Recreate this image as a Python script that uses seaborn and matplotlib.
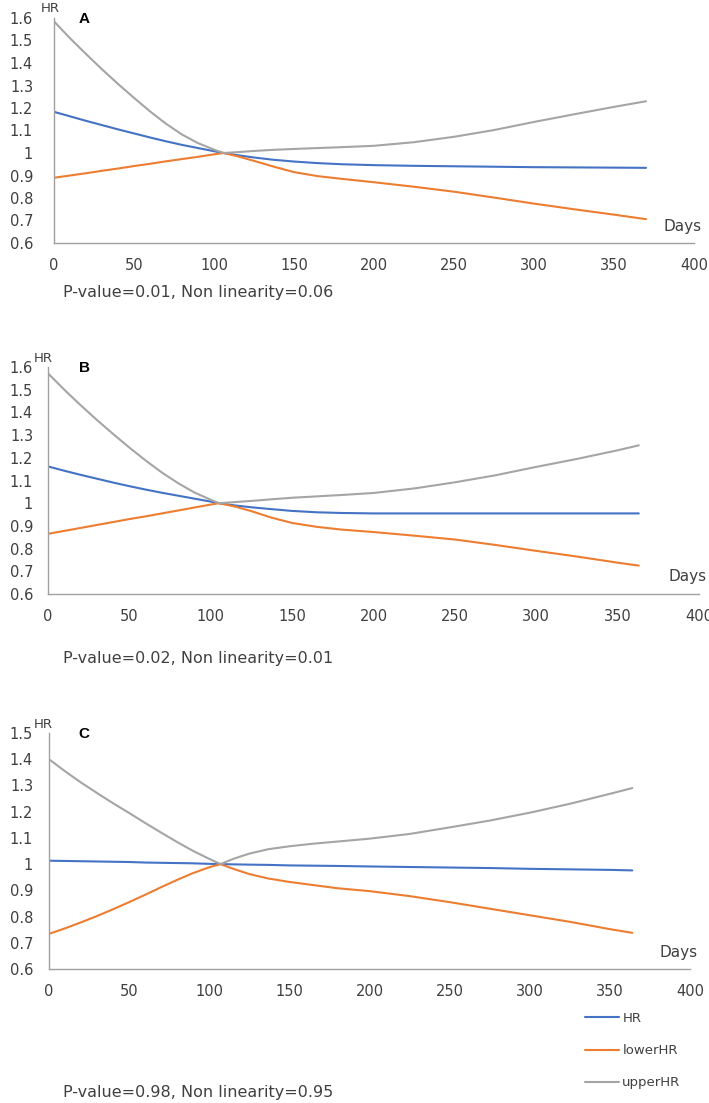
import numpy as np
import pandas as pd
import matplotlib
matplotlib.use("Agg")
import matplotlib.pyplot as plt
import seaborn as sns

# Days and curves
days_a = [0, 10, 20, 30, 40, 50, 60, 70, 80, 90, 100, 106, 115, 125, 137, 150, 165, 180, 200, 225,
          250, 275, 300, 325, 350, 370]
hr_a = [1.183, 1.163, 1.143, 1.124, 1.105, 1.087, 1.069, 1.052, 1.036, 1.022, 1.008, 1.0, 0.99, 0.98,
        0.97, 0.962, 0.955, 0.95, 0.946, 0.943, 0.941, 0.939, 0.937, 0.936, 0.935, 0.934]
lower_a = [0.89, 0.9, 0.91, 0.921, 0.931, 0.942, 0.952, 0.963, 0.973, 0.983, 0.994, 1.0, 0.985, 0.965,
           0.94, 0.915, 0.897, 0.885, 0.87, 0.85, 0.828, 0.802, 0.775, 0.75, 0.726, 0.706]
upper_a = [1.585, 1.51, 1.44, 1.372, 1.307, 1.245, 1.185, 1.13, 1.082, 1.044, 1.015, 1.0, 1.004, 1.009,
           1.014, 1.018, 1.022, 1.026, 1.032, 1.048, 1.072, 1.102, 1.138, 1.172, 1.205, 1.23]

days_b = [0, 10, 20, 30, 40, 50, 60, 70, 80, 90, 100, 105, 115, 125, 137, 150, 165, 180, 200, 225,
          250, 275, 300, 325, 350, 363]
hr_b = [1.162, 1.143, 1.125, 1.108, 1.091, 1.075, 1.06, 1.046, 1.033, 1.02, 1.007, 1.0, 0.99, 0.982,
        0.974, 0.966, 0.96, 0.957, 0.955, 0.955, 0.955, 0.955, 0.955, 0.955, 0.955, 0.955]
lower_b = [0.865, 0.878, 0.891, 0.904, 0.917, 0.93, 0.942, 0.955, 0.968, 0.981, 0.994, 1.0, 0.985, 0.965,
           0.937, 0.913, 0.896, 0.884, 0.873, 0.857, 0.84, 0.816, 0.79, 0.765, 0.738, 0.725]
upper_b = [1.572, 1.50, 1.432, 1.367, 1.305, 1.245, 1.188, 1.135, 1.088, 1.047, 1.015, 1.0, 1.005, 1.01,
           1.017, 1.024, 1.03, 1.036, 1.045, 1.065, 1.092, 1.123, 1.16, 1.195, 1.233, 1.255]

days_c = [0, 10, 20, 30, 40, 50, 60, 70, 80, 90, 100, 107, 115, 125, 137, 150, 165, 180, 200, 225,
          250, 275, 300, 325, 350, 364]
hr_c = [1.013, 1.012, 1.011, 1.01, 1.009, 1.008, 1.006, 1.005, 1.004, 1.003, 1.001, 1.0, 0.999, 0.998,
        0.997, 0.995, 0.994, 0.993, 0.991, 0.989, 0.987, 0.985, 0.982, 0.98, 0.978, 0.976]
lower_c = [0.734, 0.755, 0.778, 0.802, 0.828, 0.855, 0.883, 0.912, 0.94, 0.966, 0.988, 1.0, 0.982, 0.962,
           0.945, 0.932, 0.92, 0.908, 0.897, 0.878, 0.855, 0.83, 0.805, 0.78, 0.752, 0.738]
upper_c = [1.40, 1.354, 1.311, 1.271, 1.232, 1.195, 1.157, 1.12, 1.084, 1.05, 1.02, 1.0, 1.02, 1.04,
           1.057, 1.068, 1.078, 1.086, 1.097, 1.115, 1.14, 1.166, 1.196, 1.23, 1.268, 1.29]

panel_letters = ["A", "B", "C"]
pvalue_notes = ["P-value=0.01, Non linearity=0.06",
                "P-value=0.02, Non linearity=0.01",
                "P-value=0.98, Non linearity=0.95"]
y_tops = [1.6, 1.6, 1.5]

series_names = ["HR", "lowerHR", "upperHR"]
colors = {"HR": "#4472C4", "lowerHR": "#ED7D31", "upperHR": "#A5A5A5"}


def make_frame(days, hr, lower, upper):
    frames = []
    for name, vals in zip(series_names, [hr, lower, upper]):
        frames.append(pd.DataFrame({"Days": days, "value": vals, "series": name}))
    return pd.concat(frames, ignore_index=True)


panels = [make_frame(days_a, hr_a, lower_a, upper_a),
          make_frame(days_b, hr_b, lower_b, upper_b),
          make_frame(days_c, hr_c, lower_c, upper_c)]

sns.set_style("white")
plt.rcParams["font.family"] = ["DejaVu Sans"]

W, H = 709, 1103
fig = plt.figure(figsize=(W / 100, H / 100), dpi=100)

# pixel boxes: left, top, right, bottom
boxes = [(54, 18, 694, 243), (48, 367, 699, 594), (49, 733, 690, 969)]
note_y = [293, 658, 1092]
hr_x = [50, 43, 43]

axis_grey = "#A0A0A0"
text_col = "#404040"

for i, df in enumerate(panels):
    l, t, r, b = boxes[i]
    ax = fig.add_axes([l / W, 1 - b / H, (r - l) / W, (b - t) / H])
    sns.lineplot(data=df, x="Days", y="value", hue="series", palette=colors,
                 hue_order=series_names, linewidth=1.5, ax=ax, legend=False)
    ax.set_xlim(0, 400)
    ax.set_ylim(0.6, y_tops[i])
    ax.set_xticks(np.arange(0, 401, 50))
    yt = np.round(np.arange(0.6, y_tops[i] + 0.001, 0.1), 1)
    ax.set_yticks(yt)
    ax.set_yticklabels([f"{v:g}" for v in yt])
    ax.set_xlabel("")
    ax.set_ylabel("")
    for side in ["top", "right"]:
        ax.spines[side].set_visible(False)
    for side in ["left", "bottom"]:
        ax.spines[side].set_color(axis_grey)
        ax.spines[side].set_linewidth(1.0)
    ax.tick_params(axis="both", length=3.5, width=1, color=axis_grey,
                   labelsize=10.5, labelcolor=text_col, direction="out")
    ax.tick_params(axis="x", pad=7)
    ax.tick_params(axis="y", pad=(l - 33 - 5) * 0.72)
    ax.patch.set_alpha(0)

    # axis captions and panel letter
    fig.text(hr_x[i] / W, 1 - (t - 9) / H, "HR", fontsize=9.5, color=text_col,
             ha="center", va="center")
    fig.text(84 / W, 1 - (t + 1) / H, panel_letters[i], fontsize=11, fontweight="bold",
             family="Liberation Sans", color="black", ha="center", va="center")
    fig.text((r + 8) / W, 1 - (b - 17) / H, "Days", fontsize=11, color=text_col,
             ha="right", va="center")
    fig.text(63 / W, 1 - note_y[i] / H, pvalue_notes[i], fontsize=11.5, color=text_col,
             ha="left", va="center")

# legend under the last panel
handles = [plt.Line2D([], [], color=colors[n], linewidth=1.5) for n in series_names]
fig.legend(handles, series_names, loc="upper left", bbox_to_anchor=(585 / W, 1 - 1012 / H),
           frameon=False, fontsize=9.5, handlelength=2.6, handletextpad=0.23,
           labelspacing=1.45, labelcolor=text_col, borderaxespad=0, borderpad=0)

fig.savefig("out.png", dpi=100)
